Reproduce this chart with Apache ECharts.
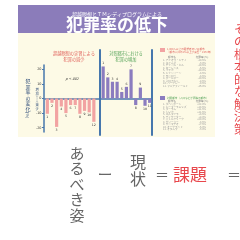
<!DOCTYPE html>
<html>
<head>
<meta charset="utf-8">
<script src="https://cdn.jsdelivr.net/npm/echarts@6/dist/echarts.min.js"></script>
<style>
  html, body { margin: 0; padding: 0; background: #fff; }
  #chart { width: 240px; height: 240px; }
</style>
</head>
<body>
<div id="chart"></div>
<script>
// bar labels as printed under / over the bars (blank = gap between the two groups)
const barLabels = ['1', '2', '3', '4', '5', '6', '7', '8', '9', '10', '12', '',
                   '1', '2', '3', '4', '5', '6', '7', '8', '9', '10', '11'];
// crime rate change (%) - cities with meditators
const tmCities = [-10.5, -3, -19.5, -5.5, -10, -4.5, -4.5, -10.5, -8.5, -9.5, -16];
// crime rate change (%) - control cities
const controlCities = [22, 14.5, 11.5, 11.5, 4.5, 8, 20, -4.5, 7.5, -5, -3];
const yTicks = [20, 10, 0, -10, -20];

const tmNames = ['アイオワ・シティ', 'エイムズ', 'チャペル・ヒル', 'ローレンス', 'イサカ',
  'シャンペーン', 'モンロー', 'ボールダー', 'パロアルト', 'バークレー', 'フェアフィールド'];
const controlNames = ['ダベンポート', 'シーダーラピッズ', 'ダーラム', 'トピカ', 'エルマイラ',
  'ディケーター', 'バトルクリーク', 'グリーリー', 'サンマテオ', 'オークランド', 'オタムワ'];

const JP = '"Noto Sans CJK JP", sans-serif';
const blue = '#4677ad';
const pink = '#f2a3a2';
const purple = '#8b7cbf';

const pad = n => Array(n).fill('-');
const pinkData = tmCities.concat(pad(12));
const purpleData = pad(12).concat(controlCities);

function txt(x, y, text, size, color, extra) {
  return Object.assign({
    type: 'text', x: x, y: y, silent: true,
    style: Object.assign({ text: text, fill: color, fontSize: size, fontFamily: JP,
      align: 'center', verticalAlign: 'middle' }, extra && extra.style)
  }, extra && extra.el);
}
const vert = s => s.split('').join('\n');

// small city table on the right of the panel
function table(names, values, y0, step) {
  const out = [];
  out.push(txt(172, y0 - 3, '都市名', 2.6, '#888'));
  out.push(txt(202, y0 - 3, '犯罪率 (%)', 2.6, '#888'));
  names.forEach((n, i) => {
    out.push(txt(163, y0 + i * step, (i + 1) + '. ' + n, 2.6, '#999', { style: { align: 'left' } }));
    out.push(txt(206, y0 + i * step, (values[i] > 0 ? '+' : '') + values[i].toFixed(1) + '%', 2.6, '#999', { style: { align: 'right' } }));
  });
  return out;
}

const graphics = [
  { type: 'rect', silent: true, shape: { x: 18, y: 33, width: 197, height: 104 }, style: { fill: '#fdfae6' } },
  { type: 'rect', silent: true, shape: { x: 18, y: 5, width: 197, height: 28 }, style: { fill: '#8b7cba' } },
  txt(117, 14, '超越瞑想とＴＭシディプログラムによる', 5, '#fff'),
  txt(117, 25, '犯罪率の低下', 17, '#fff', { style: { fontWeight: 'bold' } }),
  txt(74, 53, '超越瞑想の実習による', 4.2, '#e0625c'),
  txt(74, 59, '犯罪の減少', 4.2, '#e0625c'),
  txt(126, 53, '対照都市における', 4.2, '#55a358'),
  txt(126, 59, '犯罪の増加', 4.2, '#55a358'),
  txt(72, 79, 'p < .002', 3.6, '#333', { style: { fontStyle: 'italic' } }),
  txt(28, 95, vert('犯罪率の変化'), 5, '#2f4d7a', { style: { lineHeight: 5.6 } }),
  txt(28, 115, '(%)', 4, '#2f4d7a', { el: { rotation: -Math.PI / 2 } }),
  txt(37, 99, '増\n加\n⇧\n⇩\n減\n少', 3.2, '#2f4d7a', { style: { lineHeight: 3.8 } }),
  { type: 'rect', silent: true, shape: { x: 160, y: 48, width: 5, height: 4 }, style: { fill: pink } },
  txt(167, 49.5, '1,000人以上の瞑想者のいる都市', 2.6, '#e0625c', { style: { align: 'left' } }),
  txt(167, 52.5, '（都市人口の1%以上が実習・1972年）', 2.6, '#e0625c', { style: { align: 'left' } }),
  { type: 'rect', silent: true, shape: { x: 160, y: 96, width: 5, height: 4 }, style: { fill: purple } },
  txt(167, 98, '対照都市（人口などが同等の都市）', 2.6, '#55a358', { style: { align: 'left' } }),
  // lower slide text
  txt(77, 184, vert('あるべき姿'), 15, '#666', { style: { lineHeight: 15.4 } }),
  txt(105, 174, 'ー', 15, '#666'),
  txt(138, 170, vert('現状'), 16, '#666', { style: { lineHeight: 17 } }),
  txt(162, 175, '＝', 14, '#666'),
  txt(190, 175, '課題', 17, '#e8474c'),
  txt(234, 175, '＝', 14, '#666'),
  txt(240, 79, vert('その根本的な解決策'), 12, '#e8474c', { style: { lineHeight: 12.5 } })
].concat(table(tmNames, tmCities, 60, 2.6), table(controlNames, controlCities, 104, 2.55));

const chart = echarts.init(document.getElementById('chart'), null, { renderer: 'canvas' });
chart.setOption({
  backgroundColor: '#fff',
  animation: false,
  graphic: { elements: graphics },
  grid: [
    { left: 45, width: 107, top: 65, height: 67 },
    { left: 45, width: 107, top: 50, height: 85 }
  ],
  xAxis: [
    { type: 'category', gridIndex: 0, data: barLabels,
      axisLine: { onZero: true, lineStyle: { color: blue, width: 1.5 } },
      axisTick: { show: false }, axisLabel: { show: false } },
    { type: 'category', gridIndex: 1, data: barLabels, show: false }
  ],
  yAxis: [
    { type: 'value', gridIndex: 0, min: -23, max: 23, offset: 1,
      splitLine: { show: false },
      axisLine: { show: true, lineStyle: { color: blue, width: 1.5 } },
      axisTick: { show: true, length: 2, customValues: yTicks, lineStyle: { color: blue } },
      axisLabel: { customValues: yTicks, fontSize: 3.4, color: '#333', margin: 2.5, fontFamily: 'DejaVu Sans' } },
    { type: 'value', gridIndex: 1, position: 'left', offset: -54.5, min: 0, max: 1,
      splitLine: { show: false }, axisTick: { show: false }, axisLabel: { show: false },
      axisLine: { show: true, lineStyle: { color: blue, width: 2 } } },
    { type: 'value', gridIndex: 1, position: 'right', min: 0, max: 1,
      splitLine: { show: false }, axisTick: { show: false }, axisLabel: { show: false },
      axisLine: { show: true, lineStyle: { color: blue, width: 2 } } }
  ],
  series: [
    { type: 'bar', xAxisIndex: 0, yAxisIndex: 0, data: pinkData, barWidth: 3.2, barGap: '-100%', clip: false,
      itemStyle: { color: pink },
      label: { show: true, position: 'outside', distance: 1.5, fontSize: 3.2, color: '#333',
        fontFamily: 'DejaVu Sans', formatter: p => barLabels[p.dataIndex] } },
    { type: 'bar', xAxisIndex: 0, yAxisIndex: 0, data: purpleData, barWidth: 3.2, clip: false,
      itemStyle: { color: purple },
      label: { show: true, position: 'outside', distance: 1.5, fontSize: 3.2, color: '#333',
        fontFamily: 'DejaVu Sans', formatter: p => barLabels[p.dataIndex] } }
  ]
});
</script>
</body>
</html>
